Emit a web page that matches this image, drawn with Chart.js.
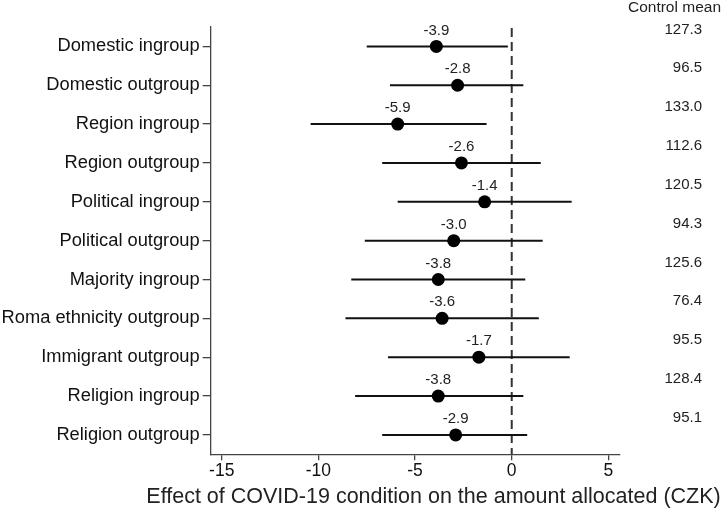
<!DOCTYPE html>
<html>
<head>
<meta charset="utf-8">
<script src="https://cdn.jsdelivr.net/npm/chart.js@4.4.0/dist/chart.umd.min.js"></script>
<style>
  html, body { margin: 0; padding: 0; background: #fff; }
  #wrap { width: 721px; height: 511px; }
</style>
</head>
<body>
<div id="wrap"><canvas id="forestChart" width="721" height="511"></canvas></div>
<script>
const groups = [
    "Domestic ingroup", "Domestic outgroup", "Region ingroup", "Region outgroup",
    "Political ingroup", "Political outgroup", "Majority ingroup",
    "Roma ethnicity outgroup", "Immigrant outgroup", "Religion ingroup", "Religion outgroup"
];
const estimates = [-3.9, -2.8, -5.9, -2.6, -1.4, -3.0, -3.8, -3.6, -1.7, -3.8, -2.9];
const ciLow = [-7.5, -6.3, -10.4, -6.7, -5.9, -7.6, -8.3, -8.6, -6.4, -8.1, -6.7];
const ciHigh = [-0.2, 0.6, -1.3, 1.5, 3.1, 1.6, 0.7, 1.4, 3.0, 0.6, 0.8];
const controlMeans = ["127.3", "96.5", "133.0", "112.6", "120.5", "94.3", "125.6", "76.4", "95.5", "128.4", "95.1"];
const xTicks = [-15, -10, -5, 0, 5];

const fontFamily = "'Liberation Sans', Arial, Helvetica, sans-serif";

// error bars + zero line + text
const forestPlugin = {
    id: "forest",
    beforeDatasetsDraw(chart) {
        const { ctx, chartArea, scales } = chart;
        const x = scales.x, y = scales.y;
        ctx.save();
        // zero reference line
        ctx.strokeStyle = "#333";
        ctx.lineWidth = 2;
        ctx.setLineDash([9, 5]);
        ctx.beginPath();
        ctx.moveTo(x.getPixelForValue(0), chartArea.top + 1);
        ctx.lineTo(x.getPixelForValue(0), chartArea.bottom);
        ctx.stroke();
        ctx.setLineDash([]);
        // confidence intervals
        ctx.strokeStyle = "#111";
        ctx.lineWidth = 2;
        groups.forEach((g, i) => {
            const py = y.getPixelForValue(i + 1);
            ctx.beginPath();
            ctx.moveTo(x.getPixelForValue(ciLow[i]), py);
            ctx.lineTo(x.getPixelForValue(ciHigh[i]), py);
            ctx.stroke();
        });
        ctx.restore();
    },
    afterDatasetsDraw(chart) {
        const { ctx, scales } = chart;
        const x = scales.x, y = scales.y;
        ctx.save();
        ctx.fillStyle = "#222";
        ctx.textBaseline = "middle";
        ctx.font = "15px " + fontFamily;
        ctx.textAlign = "center";
        estimates.forEach((v, i) => {
            ctx.fillText(v.toFixed(1), x.getPixelForValue(v), y.getPixelForValue(i + 1) - 16);
        });
        ctx.textAlign = "right";
        controlMeans.forEach((m, i) => {
            ctx.fillText(m, 702, y.getPixelForValue(i + 1) - 17);
        });
        ctx.font = "15.5px " + fontFamily;
        ctx.fillText("Control mean", 721, 8);
        ctx.textAlign = "center";
        ctx.font = "21.5px " + fontFamily;
        ctx.fillText("Effect of COVID-19 condition on the amount allocated (CZK)", 433.5, 497);
        ctx.restore();
    }
};

const ctx = document.getElementById("forestChart").getContext("2d");
new Chart(ctx, {
    type: "scatter",
    data: {
        datasets: [{
            data: estimates.map((v, i) => ({ x: v, y: i + 1 })),
            backgroundColor: "#000",
            borderWidth: 0,
            pointRadius: 6.5,
            pointHoverRadius: 6.5
        }]
    },
    options: {
        responsive: false,
        animation: false,
        devicePixelRatio: 1,
        layout: { padding: { top: 27, right: 101, left: 0, bottom: 0 } },
        plugins: { legend: { display: false }, tooltip: { enabled: false } },
        scales: {
            x: {
                type: "linear",
                min: -15.57,
                max: 5.6,
                afterBuildTicks: (scale) => { scale.ticks = xTicks.map(v => ({ value: v })); },
                afterFit: (scale) => { scale.height = 56.7; },
                grid: { drawOnChartArea: false, tickLength: 6, color: "#444", lineWidth: 1.3 },
                border: { display: true, color: "#444", width: 1.3 },
                ticks: { color: "#111", padding: 0, font: { family: fontFamily, size: 17.5 } }
            },
            y: {
                type: "linear",
                min: 0.5,
                max: 11.5,
                reverse: true,
                afterBuildTicks: (scale) => { scale.ticks = groups.map((g, i) => ({ value: i + 1 })); },
                afterFit: (scale) => { scale.width = 210.7; },
                grid: { drawOnChartArea: false, tickLength: 8, color: "#444", lineWidth: 1.3 },
                border: { display: true, color: "#444", width: 1.3 },
                ticks: {
                    color: "#111",
                    padding: 3,
                    font: { family: fontFamily, size: 18.3 },
                    callback: (value) => groups[value - 1]
                }
            }
        }
    },
    plugins: [forestPlugin]
});
</script>
</body>
</html>
